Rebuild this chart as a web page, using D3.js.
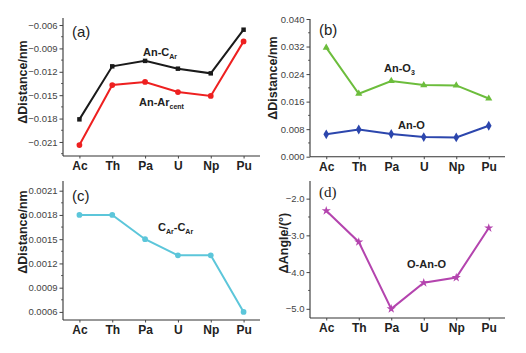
<!DOCTYPE html>
<html><head><meta charset="utf-8">
<script src="https://cdn.jsdelivr.net/npm/d3@7"></script>
<style>
body{margin:0;background:#fff;}
svg{display:block;font-family:"Liberation Sans",Arial,sans-serif;}
</style></head>
<body><svg id="c" width="526" height="353"></svg>
<script>
const categories = ["Ac","Th","Pa","U","Np","Pu"];
// (a)
const anCAr   = [-0.0181,-0.0113,-0.0106,-0.0116,-0.0122,-0.0066];
const anArCent= [-0.0214,-0.0137,-0.0133,-0.0146,-0.0151,-0.0081];
const ticksA  = [-0.021,-0.018,-0.015,-0.012,-0.009,-0.006];
// (b)
const anO3 = [0.0317,0.0183,0.0220,0.0208,0.0207,0.0169];
const anO  = [0.0065,0.0079,0.0066,0.0057,0.0056,0.0090];
const ticksB = [0.000,0.008,0.016,0.024,0.032,0.040];
// (c)
const cArCAr = [0.0018,0.0018,0.0015,0.0013,0.0013,0.0006];
const ticksC = [0.0006,0.0009,0.0012,0.0015,0.0018,0.0021];
// (d)
const oAnO = [-2.33,-3.18,-5.0,-4.29,-4.15,-2.80];
const ticksD = [-5.0,-4.0,-3.0,-2.0];

const svg = d3.select("#c");

function panel(cfg){
  const g = svg.append("g");
  const x = d3.scalePoint().domain(categories).range([cfg.x0,cfg.x1]).padding(0.5);
  const y = d3.scaleLinear().domain(cfg.dom).range([cfg.y1,cfg.y0]);
  const minors = [];
  const step = cfg.ticks[1]-cfg.ticks[0];
  for(let i=0;i<cfg.ticks.length;i++){
    [cfg.ticks[i]-step/2, cfg.ticks[i]+step/2].forEach(v=>{
      if(v>=cfg.dom[0]-1e-12 && v<=cfg.dom[1]+1e-12 && !minors.some(m=>Math.abs(m-v)<1e-12)) minors.push(v);
    });
  }
  g.selectAll(".mn").data(minors).join("line")
    .attr("x1",cfg.x0-2).attr("x2",cfg.x0).attr("y1",d=>y(d)).attr("y2",d=>y(d))
    .attr("stroke","#444").attr("stroke-width",0.8);
  const ya = d3.axisLeft(y).tickValues(cfg.ticks).tickFormat(cfg.fmt).tickSize(3.5).tickPadding(2);
  const yg = g.append("g").attr("transform",`translate(${cfg.x0},0)`).call(ya);
  yg.select(".domain").attr("d",`M-0,${cfg.y0}V${cfg.y1}`).attr("stroke","#333").attr("stroke-width",1.1);
  yg.selectAll(".tick line").attr("stroke","#444");
  yg.selectAll("text").attr("font-size",9.5).attr("fill","#444");
  const xa = d3.axisBottom(x).tickSize(2.5).tickPadding(3);
  const xg = g.append("g").attr("transform",`translate(0,${cfg.y1})`).call(xa);
  xg.select(".domain").attr("d",`M${cfg.x0},0H${cfg.x1}`).attr("stroke","#333").attr("stroke-width",1.1);
  xg.selectAll(".tick line").attr("stroke","#444");
  xg.selectAll("text").attr("font-size",12).attr("font-weight","bold").attr("fill","#222");
  g.append("text").attr("transform",`translate(${cfg.tx},${cfg.ty}) rotate(-90)`)
    .attr("text-anchor","middle").attr("font-size",12.5).attr("font-weight","bold").attr("fill","#222")
    .text(cfg.title);
  g.append("text").attr("x",cfg.lx).attr("y",cfg.ly).attr("font-size",15)
    .attr("font-family",cfg.serif?"'Liberation Serif',serif":null).attr("fill","#222").text(cfg.letter);
  cfg.series.forEach(s=>{
    const line = d3.line().x((d,i)=>x(categories[i])).y(d=>y(d));
    g.append("path").datum(s.values).attr("d",line).attr("fill","none")
      .attr("stroke",s.color).attr("stroke-width",2);
    g.selectAll(null).data(s.values).join("path")
      .attr("transform",(d,i)=>`translate(${x(categories[i])},${y(d)})`)
      .attr("d",d3.symbol().type(s.sym).size(s.size||22)).attr("fill",s.color);
  });
  return g;
}

function label(parts,x,y){
  const t = svg.append("text").attr("x",x).attr("y",y).attr("font-size",11)
    .attr("font-weight","bold").attr("fill","#222");
  parts.forEach(p=>{
    const ts = t.append("tspan").text(p[0]);
    if(p[1]) ts.attr("font-size",7).attr("dy",3);
    else if(p[2]) ts.attr("dy",-3);
  });
}

const fmt3 = d3.format(".3f"), fmt4 = d3.format(".4f"), fmt1 = d3.format(".1f");

panel({x0:63,x1:260,y0:18,y1:156,dom:[-0.0228,-0.0051],ticks:ticksA,fmt:fmt3,
  tx:27,ty:82,title:"ΔDistance/nm",letter:"(a)",lx:72,ly:37,
  series:[{values:anCAr,color:"#1a1a1a",sym:d3.symbolSquare,size:20},
          {values:anArCent,color:"#ee2020",sym:d3.symbolCircle,size:26}]});
panel({x0:310,x1:505,y0:19,y1:156.7,dom:[0,0.040],ticks:ticksB,fmt:fmt3,
  tx:277,ty:78,title:"ΔDistance/nm",letter:"(b)",lx:319,ly:35,
  series:[{values:anO3,color:"#6cbd3c",sym:d3.symbolTriangle,size:22},
          {values:anO,color:"#2c46ad",sym:d3.symbolDiamond,size:28}]});
panel({x0:63,x1:260,y0:181,y1:320,dom:[0.0005,0.00222],ticks:ticksC,fmt:fmt4,
  tx:27,ty:232,title:"ΔDistance/nm",letter:"(c)",lx:72,ly:201,
  series:[{values:cArCAr,color:"#5cc6da",sym:d3.symbolCircle,size:26}]});
panel({x0:310,x1:505,y0:181,y1:318,dom:[-5.25,-1.52],ticks:ticksD,fmt:fmt1,
  tx:288,ty:243,title:"ΔAngle/(°)",letter:"(d)",lx:319,ly:197,serif:true,
  series:[{values:oAnO,color:"#b444ae",sym:d3.symbolStar,size:26}]});

label([["An-C"],["Ar",1]],143,56);
label([["An-Ar"],["cent",1]],139,106);
label([["An-O"],["3",1]],384,72);
label([["An-O"]],398,129);
label([["C"],["Ar",1],["-C",0,1],["Ar",1]],158,231);
label([["O-An-O"]],407,268);
</script></body></html>
